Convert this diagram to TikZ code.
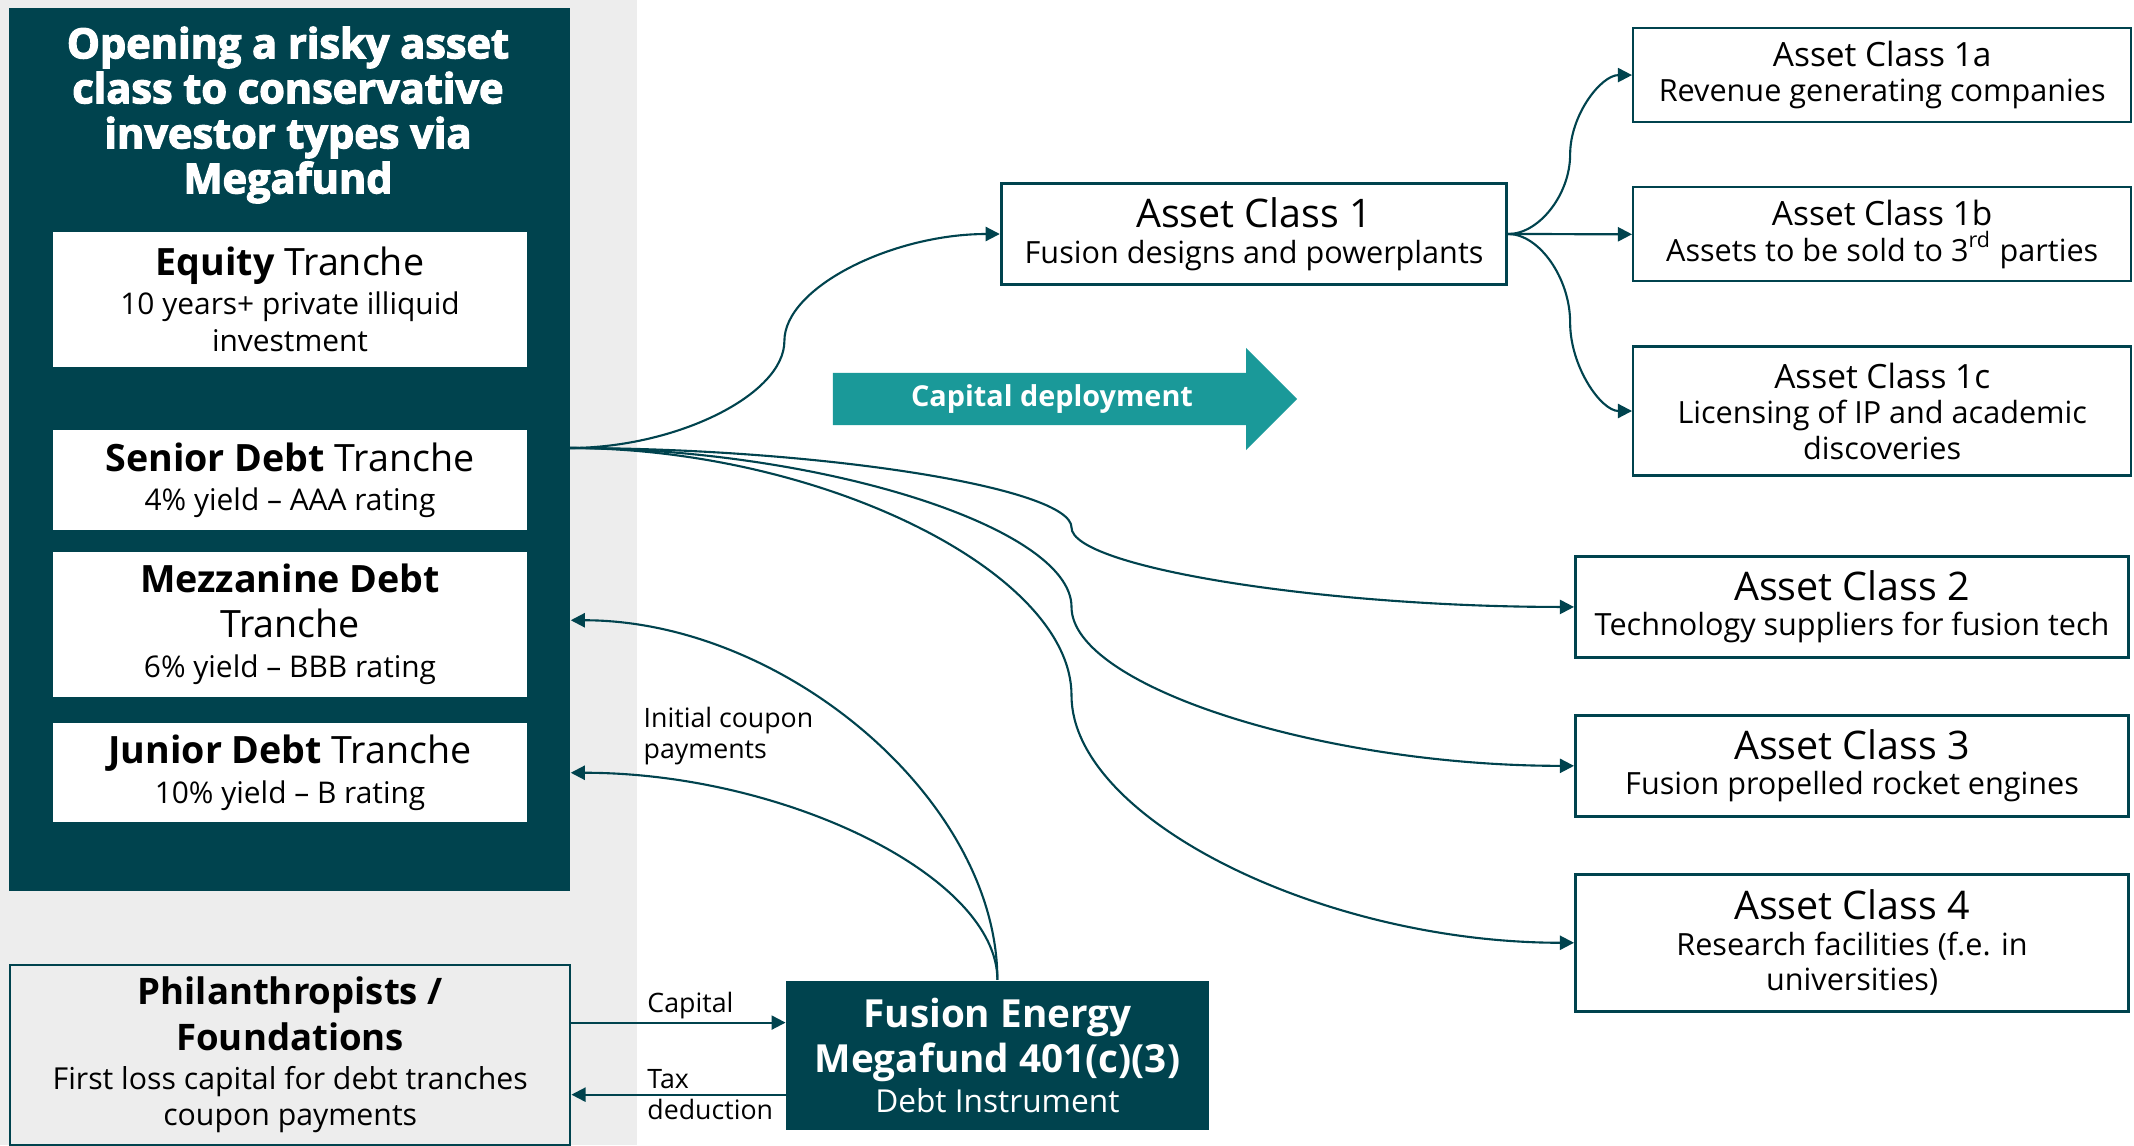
\documentclass[tikz,border=0pt]{standalone}
\usepackage{fontspec}
\setmainfont{Open Sans}
\newfontfamily\blackfont{Open Sans}[BoldFeatures={FakeBold=3}]
\usetikzlibrary{shapes, arrows.meta, positioning, fit, backgrounds, calc}
\definecolor{petrol}{RGB}{0,67,78}
\definecolor{paper}{RGB}{237,237,237}
\definecolor{lagoon}{RGB}{26,153,153}
\newcommand{\trhead}{\fontsize{10.7}{12}\selectfont}
\newcommand{\achead}{\fontsize{11.2}{12}\selectfont}
\newcommand{\acsmall}{\fontsize{9.5}{11}\selectfont}
\newcommand{\fundhead}{\fontsize{11}{12.8}\selectfont}

\begin{document}
\begin{tikzpicture}[x=0.01cm, y=-0.01cm, font=\fontsize{8.5}{10.5}\selectfont,
    panel/.style={fill=petrol, inner sep=0pt},
    tranche/.style={fill=white, align=center, inner sep=0pt, minimum width=4.73cm},
    assetbox/.style={draw=petrol, fill=white, align=center, inner sep=0pt, line width=0.6pt,
      font=\fontsize{8.7}{10.1}\selectfont},
    bigasset/.style={assetbox, line width=0.9pt},
    fundbox/.style={fill=petrol, text=white, align=center, inner sep=0pt, font=\fontsize{9}{11.4}\selectfont},
    donorbox/.style={draw=petrol, fill=paper, align=center, inner sep=0pt, line width=0.6pt,
      font=\fontsize{8.6}{10.3}\selectfont},
    note/.style={font=\fontsize{7.6}{9}\selectfont, align=left, inner sep=0pt},
    link/.style={draw=petrol, line width=0.6pt, -{Triangle[length=4pt, width=4pt]}},
    elbow/.style={to path={let \p1=(\tikztostart), \p2=(\tikztotarget) in
      .. controls ({0.75*\x1+0.25*\x2},\y1) and ({0.5*\x1+0.5*\x2},{0.75*\y1+0.25*\y2})
      .. ({0.5*\x1+0.5*\x2},{0.5*\y1+0.5*\y2})
      .. controls ({0.5*\x1+0.5*\x2},{0.25*\y1+0.75*\y2}) and ({0.25*\x1+0.75*\x2},\y2)
      .. (\tikztotarget)}},
    hook/.style={to path={let \p1=(\tikztostart), \p2=(\tikztotarget) in
      .. controls (\x1,{0.5*\y1+0.5*\y2}) and ({0.5*\x1+0.5*\x2},\y2) .. (\tikztotarget)}}]
\useasboundingbox (0,0) rectangle (2134,1145);
\fill[white] (0,0) rectangle (2134,1145);
\fill[paper] (0,0) rectangle (637,1145);

\node[panel, minimum width=5.61cm, minimum height=8.83cm, anchor=north west] (panel) at (8,7) {};
\node[text=white, align=center, font=\blackfont\bfseries\fontsize{11.8}{12.8}\selectfont] (headline) at (288,115)
  {Opening a risky asset\\class to conservative\\investor types via\\Megafund};
\node[tranche, minimum height=1.35cm, anchor=north] (equity) at (290,231)
  {{\trhead\textbf{Equity} Tranche}\\[0.6pt]10 years+ private illiquid\\investment};
\node[tranche, minimum height=1.0cm, below=0.62cm of equity] (senior)
  {{\trhead\textbf{Senior Debt} Tranche}\\[0.6pt]4\% yield – AAA rating};
\node[tranche, minimum height=1.45cm, below=0.2cm of senior] (mezz)
  {{\trhead\textbf{Mezzanine Debt}}\\[2.3pt]{\trhead Tranche}\\[0.9pt]6\% yield – BBB rating};
\node[tranche, minimum height=0.99cm, below=0.25cm of mezz] (junior)
  {{\trhead\textbf{Junior Debt} Tranche}\\[1pt]10\% yield – B rating};

\node[donorbox, minimum width=5.6cm, minimum height=1.8cm, anchor=north west] (donor) at (9,964)
  {{\fontsize{10.4}{12}\selectfont\bfseries Philanthropists /}\\[1.6pt]{\fontsize{10.4}{12}\selectfont\bfseries Foundations}\\[0.8pt]First loss capital for debt tranches\\coupon payments};
\node[fundbox, minimum width=4.22cm, minimum height=1.49cm, right=2.14cm of donor] (fund)
  {{\fundhead\bfseries Fusion Energy}\\[1.4pt]{\fundhead\bfseries Megafund 401(c)(3)}\\Debt Instrument};

\node[bigasset, minimum width=5.05cm, minimum height=1.01cm] (ac1) at (1254,234)
  {{\achead Asset Class 1}\\[0.3pt]Fusion designs and powerplants};
\node[assetbox, minimum width=4.98cm, minimum height=0.94cm, anchor=north west] (ac1a) at (1632,27)
  {{\acsmall Asset Class 1a}\\Revenue generating companies};
\node[assetbox, minimum width=4.98cm, minimum height=0.94cm, below=0.63cm of ac1a] (ac1b)
  {{\acsmall Asset Class 1b}\\Assets to be sold to 3\textsuperscript{rd} parties};
\node[assetbox, minimum width=4.98cm, minimum height=1.29cm, below=0.63cm of ac1b] (ac1c)
  {{\acsmall Asset Class 1c}\\Licensing of IP and academic\\discoveries};
\node[bigasset, line width=0.8pt, minimum width=5.53cm, minimum height=1.01cm, anchor=north west] (ac2) at (1574,555)
  {{\achead Asset Class 2}\\Technology suppliers for fusion tech};
\node[bigasset, line width=0.8pt, minimum width=5.53cm, minimum height=1.01cm, below=0.55cm of ac2] (ac3)
  {{\achead Asset Class 3}\\Fusion propelled rocket engines};
\node[bigasset, line width=0.8pt, minimum width=5.53cm, minimum height=1.37cm, below=0.55cm of ac3] (ac4)
  {{\achead Asset Class 4}\\Research facilities (f.e. in\\universities)};

\node[single arrow, fill=lagoon, text=white, font=\bfseries\fontsize{8.2}{9}\selectfont, inner xsep=0pt, inner ysep=3.2pt,
  text height=6pt, text depth=2pt, minimum height=4.64cm, minimum width=1.01cm, single arrow head extend=0.25cm]
  (deploy) at (1052,399) {Capital deployment};

\coordinate (fan) at (569,448);
\draw[link] (fan) to[elbow] (ac1.west);
\foreach \dest in {ac2,ac3,ac4}
  \draw[link] (fan) to[elbow] (\dest.west);
\foreach \dest in {ac1a,ac1b,ac1c}
  \draw[link] (ac1.east) to[elbow] (\dest.west);
\draw[link] (fund.north) to[hook] ([yshift=0.4mm]panel.east |- mezz.east);
\draw[link] (fund.north) to[hook] (panel.east |- junior.east);
\draw[link] ([yshift=3.25mm]fund.west -| donor.east) -- node[note, pos=0.35, anchor=base west, yshift=3pt] (capital) {Capital} ([yshift=3.25mm]fund.west);
\draw[link] ([yshift=-3.95mm]fund.west) -- node[note, pos=0.65, anchor=west] (tax) {Tax\\deduction} ([yshift=-3.95mm]fund.west -| donor.east);
\node[note, anchor=north west] (coupon) at (643,706) {Initial coupon\\payments};
\end{tikzpicture}
\end{document}
